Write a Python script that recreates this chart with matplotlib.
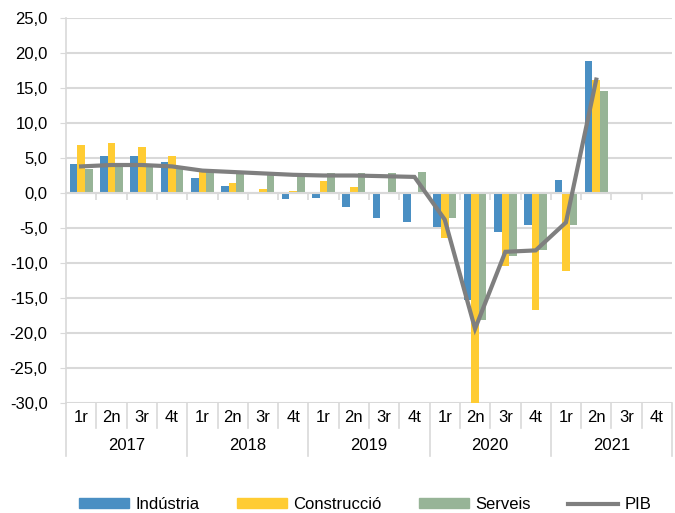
import matplotlib
matplotlib.use('Agg')
import matplotlib.pyplot as plt
import matplotlib.transforms as mtrans
import matplotlib.patches as mp
import matplotlib.lines as mpl
import numpy as np

plt.rcParams['font.family'] = ['Liberation Sans', 'DejaVu Sans']

years = ['2017', '2018', '2019', '2020', '2021']
quarters = ['1r', '2n', '3r', '4t']

industria = [4.2, 5.3, 5.3, 4.5, 2.2, 0.95, 0.2, -0.85, -0.7, -2.0, -3.6, -4.2,
             -4.9, -15.3, -5.6, -4.5, 1.9, 18.8, np.nan, np.nan]
construccio = [6.8, 7.2, 6.6, 5.3, 3.0, 1.5, 0.6, 0.35, 1.7, 0.9, 0.15, -0.1,
               -6.4, -30.0, -10.4, -16.7, -11.1, 16.2, np.nan, np.nan]
serveis = [3.5, 3.7, 3.7, 3.5, 3.0, 2.9, 2.7, 2.8, 2.8, 2.8, 2.8, 3.0,
           -3.5, -18.1, -9.0, -8.2, -4.5, 14.6, np.nan, np.nan]
pib = [3.8, 4.0, 4.0, 3.8, 3.2, 3.0, 2.8, 2.6, 2.5, 2.5, 2.4, 2.3,
       -3.8, -19.4, -8.4, -8.2, -4.2, 16.2, np.nan, np.nan]

c_ind = '#4a8fc3'
c_con = '#ffcc33'
c_ser = '#97b497'
c_pib = '#7f7f7f'
c_grid = '#d9d9d9'
fs = 12

n = len(industria)
x = np.arange(n)
w = 0.25

fig = plt.figure(figsize=[6.75, 5.13], dpi=100)
ax = fig.add_axes([66 / 675, 110 / 513, 606 / 675, 385 / 513])

ax.bar(x - w, industria, w, color=c_ind, zorder=2)
ax.bar(x, construccio, w, color=c_con, zorder=2)
ax.bar(x + w, serveis, w, color=c_ser, zorder=2)
ax.plot(x, pib, color=c_pib, lw=3, zorder=3, solid_joinstyle='miter')

ax.set_xlim(-0.5, n - 0.5)
ax.set_ylim(-30, 25)
ax.set_yticks(np.arange(-30, 26, 5))
ax.set_yticklabels([('%.1f' % v).replace('.', ',') for v in np.arange(-30, 26, 5)], fontsize=fs)
ax.yaxis.grid(True, color=c_grid, lw=1.5, zorder=0)
ax.set_axisbelow(True)
ax.tick_params(axis='y', length=4.3, color=c_grid, pad=9)

for s in ['top', 'right']:
    ax.spines[s].set_visible(False)
ax.spines['left'].set_color(c_grid)
ax.spines['left'].set_linewidth(1.2)
ax.spines['bottom'].set_position(('data', 0))
ax.spines['bottom'].set_color(c_grid)
ax.spines['bottom'].set_linewidth(1.5)
ax.set_xticks(np.arange(0.5, n - 0.5, 1))
ax.set_xticklabels([])
ax.tick_params(axis='x', length=5, color=c_grid, direction='out', width=1.2)

# category labels below the plot
tr = mtrans.blended_transform_factory(ax.transData, ax.transAxes)
px = 1 / 385
for i in range(n):
    ax.text(i, -15 * px, quarters[i % 4], transform=tr, ha='center', va='center', fontsize=fs)
for k, yr in enumerate(years):
    ax.text(4 * k + 1.5, -42 * px, yr, transform=tr, ha='center', va='center', fontsize=fs)
for b in range(n + 1):
    bottom = -53 * px if b % 4 == 0 else -25 * px
    ax.plot([b - 0.5, b - 0.5], [0, bottom], transform=tr, color=c_grid, lw=1.2, clip_on=False)

handles = [mp.Patch(color=c_ind, label='Indústria'),
           mp.Patch(color=c_con, label='Construcció'),
           mp.Patch(color=c_ser, label='Serveis'),
           mpl.Line2D([], [], color=c_pib, lw=3, label='PIB')]
fig.legend(handles=handles, loc='center', bbox_to_anchor=(0.541, 0.016), ncol=4, frameon=False,
           fontsize=fs, handlelength=3.0, handleheight=0.55, handletextpad=0.42, columnspacing=2.2,
           borderpad=0)

fig.savefig('out.png', dpi=100)
